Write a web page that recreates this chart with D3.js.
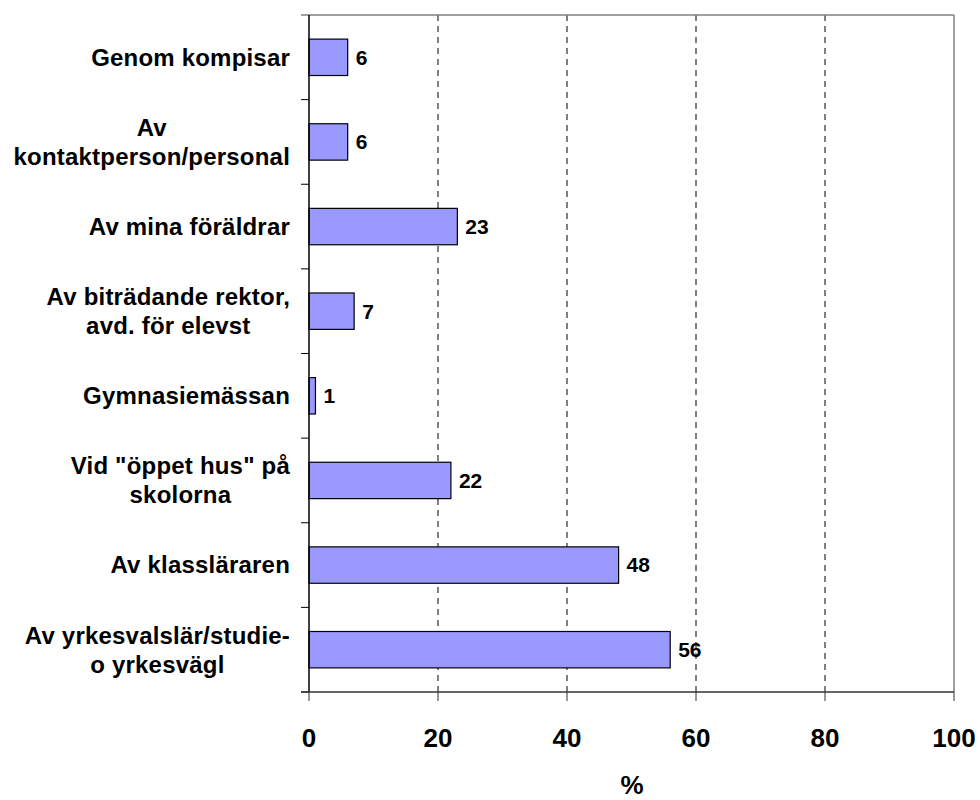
<!DOCTYPE html>
<html>
<head>
<meta charset="utf-8">
<script src="https://cdn.jsdelivr.net/npm/d3@7"></script>
<style>
  body { margin: 0; background: #fff; }
  text { font-family: "Liberation Sans", Arial, sans-serif; font-weight: bold; fill: #000; }
</style>
</head>
<body>
<div id="chart"></div>
<script>
const categories = [
  ["Genom kompisar"],
  ["Av", "kontaktperson/personal"],
  ["Av mina föräldrar"],
  ["Av biträdande rektor,", "avd. för elevst"],
  ["Gymnasiemässan"],
  ["Vid \"öppet hus\" på", "skolorna"],
  ["Av klassläraren"],
  ["Av yrkesvalslär/studie-", "o yrkesvägl"]
];
const values = [6, 6, 23, 7, 1, 22, 48, 56];
const xTicks = [0, 20, 40, 60, 80, 100];
const axisTitle = "%";

const width = 980, height = 800;
const margin = { top: 15, right: 26, bottom: 108, left: 309 };
const innerW = width - margin.left - margin.right;
const innerH = height - margin.top - margin.bottom;

const svg = d3.select("#chart").append("svg")
  .attr("width", width)
  .attr("height", height);

const g = svg.append("g").attr("transform", `translate(${margin.left},${margin.top})`);

const x = d3.scaleLinear().domain([0, 100]).range([0, innerW]);
const y = d3.scaleBand().domain(d3.range(categories.length)).range([0, innerH]).paddingInner(0.57).paddingOuter(0.285);
const yTicks = d3.scaleBand().domain(d3.range(categories.length)).range([0, innerH]);

// grid lines
g.selectAll(".grid")
  .data(xTicks.filter(t => t > 0 && t < 100))
  .enter().append("line")
  .attr("x1", d => x(d)).attr("x2", d => x(d))
  .attr("y1", 0).attr("y2", innerH)
  .attr("stroke", "#000").attr("stroke-width", 1)
  .attr("stroke-dasharray", "6,5");

// frame top & right
g.append("line").attr("x1", -8).attr("x2", innerW).attr("y1", 0).attr("y2", 0)
  .attr("stroke", "#808080").attr("stroke-width", 1.5);
g.append("line").attr("x1", innerW).attr("x2", innerW).attr("y1", 0).attr("y2", innerH)
  .attr("stroke", "#808080").attr("stroke-width", 1.5);

// bars
g.selectAll(".bar")
  .data(values)
  .enter().append("rect")
  .attr("x", 0)
  .attr("y", (d, i) => y(i))
  .attr("width", d => x(d))
  .attr("height", y.bandwidth())
  .attr("fill", "#9999FF")
  .attr("stroke", "#000")
  .attr("stroke-width", 1.2);

// value labels
g.selectAll(".val")
  .data(values)
  .enter().append("text")
  .attr("x", d => x(d) + 8)
  .attr("y", (d, i) => y(i) + y.bandwidth() / 2)
  .attr("dy", "0.35em")
  .attr("font-size", 21)
  .text(d => d);

// y axis
g.append("line").attr("x1", 0).attr("x2", 0).attr("y1", 0).attr("y2", innerH)
  .attr("stroke", "#000").attr("stroke-width", 1.5);
g.selectAll(".ytick")
  .data(d3.range(1, categories.length + 1))
  .enter().append("line")
  .attr("x1", -8).attr("x2", 0)
  .attr("y1", d => d * yTicks.bandwidth()).attr("y2", d => d * yTicks.bandwidth())
  .attr("stroke", "#000");

// category labels: lines centred within a block that is right-aligned
const lineH = 29;
const labelRight = 290;
g.selectAll(".cat")
  .data(categories)
  .enter().append("text")
  .attr("text-anchor", "middle")
  .attr("font-size", 24)
  .attr("letter-spacing", 0.2)
  .each(function (lines, i) {
    const t = d3.select(this);
    lines.forEach((l, k) => {
      t.append("tspan")
        .attr("x", 0)
        .attr("y", (k - (lines.length - 1) / 2) * lineH)
        .attr("dy", "0.35em")
        .text(l);
    });
    let maxW = 0;
    t.selectAll("tspan").each(function () {
      maxW = Math.max(maxW, this.getComputedTextLength());
    });
    const cx = labelRight - maxW / 2 - margin.left;
    t.attr("transform", `translate(${cx},${yTicks(i) + yTicks.bandwidth() / 2})`);
  });

// x axis
g.append("line").attr("x1", -8).attr("x2", innerW).attr("y1", innerH).attr("y2", innerH)
  .attr("stroke", "#333").attr("stroke-width", 1.5);
g.selectAll(".xtick")
  .data(xTicks)
  .enter().append("line")
  .attr("x1", d => x(d)).attr("x2", d => x(d))
  .attr("y1", innerH).attr("y2", innerH + 9)
  .attr("stroke", "#333");
g.selectAll(".xlab")
  .data(xTicks)
  .enter().append("text")
  .attr("x", d => x(d))
  .attr("y", 747 - margin.top)
  .attr("text-anchor", "middle")
  .attr("font-size", 26)
  .text(d => d);

svg.append("text")
  .attr("x", 632)
  .attr("y", 794)
  .attr("text-anchor", "middle")
  .attr("font-size", 26)
  .text(axisTitle);
</script>
</body>
</html>
